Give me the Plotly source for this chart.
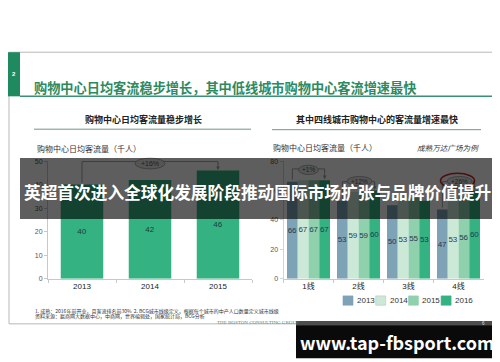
import plotly.graph_objects as go

W, H = 500, 362

# ---------------- data ----------------
left_categories = ["2013", "2014", "2015"]
left_values = [40, 42, 46]
left_ticks = [0, 10, 20, 30, 40, 50]

tier_categories = ["1线", "2线", "3线", "4线"]
series_names = ["2013", "2014", "2015", "2016"]
values_2013 = [66, 53, 50, 47]
values_2014 = [67, 59, 53, 53]
values_2015 = [67, 59, 55, 56]
values_2016 = [67, 60, 53, 60]
right_ticks = [0, 20, 40, 60, 80]

left_growth = "+16%"
tier_growth = ["+1%", "+12%", None, "+26%"]

series_values = [values_2013, values_2014, values_2015, values_2016]
series_colors = ["#7ea3b7", "#cce9d8", "#8fd0ad", "#34b282"]
left_color = "#34b282"

FONT = "Liberation Sans, Noto Sans CJK SC, sans-serif"
CJK = "Noto Sans CJK SC, Liberation Sans, sans-serif"


def fx(px):
    return px / W


def fy(py):
    return 1 - py / H


# pixel geometry of the two plot areas
L_X0, L_X1, P_TOP, P_BOT = 40, 244, 152, 272
R_X0, R_X1 = 275.5, 475.5
L_MAX, R_MAX = 50, 80
BARGAP = 0.14

fig = go.Figure()

fig.add_trace(go.Bar(
    x=left_categories, y=left_values, xaxis="x", yaxis="y",
    marker=dict(color=left_color, line=dict(width=0)), width=0.625,
    text=left_values, textposition="inside", insidetextanchor="middle",
    textangle=0, constraintext="none",
    insidetextfont=dict(size=8, color="#1d3c3a", family=FONT),
    showlegend=False, hoverinfo="skip",
))

for name, vals, col in zip(series_names, series_values, series_colors):
    fig.add_trace(go.Bar(
        x=tier_categories, y=vals, name=name, xaxis="x2", yaxis="y2",
        marker=dict(color=col, line=dict(width=0)),
        text=vals, textposition="inside", insidetextanchor="middle",
        textangle=0, constraintext="none",
        insidetextfont=dict(size=8, color="#1f3a55", family=FONT),
        showlegend=False, hoverinfo="skip",
    ))

axis_common = dict(showgrid=False, zeroline=False, fixedrange=True)
fig.update_layout(
    width=W, height=H, margin=dict(l=0, r=0, t=0, b=0),
    paper_bgcolor="white", plot_bgcolor="rgba(0,0,0,0)",
    barmode="group", bargap=BARGAP, bargroupgap=0, showlegend=False,
    font=dict(family=FONT, size=8, color="#333"),
    xaxis=dict(domain=[fx(L_X0), fx(L_X1)], anchor="y", type="category",
               range=[-0.5, 2.5], showline=True, linecolor="#c8c8c8",
               ticks="outside", tickson="boundaries", ticklen=3, tickcolor="#c8c8c8",
               tickfont=dict(size=8, color="#222"), **axis_common),
    yaxis=dict(domain=[fy(P_BOT), fy(P_TOP)], anchor="x", range=[0, L_MAX],
               tickvals=left_ticks, showline=True, linecolor="#c8c8c8",
               ticks="outside", ticklen=3, tickcolor="#c8c8c8",
               tickfont=dict(size=7, color="#555"), **axis_common),
    xaxis2=dict(domain=[fx(R_X0), fx(R_X1)], anchor="y2", type="category",
                range=[-0.5, 3.5], showline=True, linecolor="#c8c8c8",
                ticks="outside", tickson="boundaries", ticklen=3, tickcolor="#c8c8c8",
                tickfont=dict(size=8, color="#222"), **axis_common),
    yaxis2=dict(domain=[fy(P_BOT), fy(P_TOP)], anchor="x2", range=[0, R_MAX],
                tickvals=right_ticks, showline=True, linecolor="#c6d9e2",
                ticks="outside", ticklen=3, tickcolor="#c6d9e2",
                tickfont=dict(size=7, color="#555"), **axis_common),
)

shapes = []
ann = []


def line(x0, y0, x1, y1, color, width=1, layer="above"):
    shapes.append(dict(type="line", xref="paper", yref="paper",
                       x0=fx(x0), y0=fy(y0), x1=fx(x1), y1=fy(y1),
                       line=dict(color=color, width=width), layer=layer))


def rect(x0, y0, x1, y1, fill, lc=None, lw=0, layer="above"):
    shapes.append(dict(type="rect", xref="paper", yref="paper",
                       x0=fx(x0), y0=fy(y1), x1=fx(x1), y1=fy(y0),
                       fillcolor=fill, line=dict(color=lc or fill, width=lw),
                       layer=layer))


def ellipse(cx, cy, w, h, fill, lc, lw=0.8):
    shapes.append(dict(type="circle", xref="paper", yref="paper",
                       x0=fx(cx - w / 2), x1=fx(cx + w / 2),
                       y0=fy(cy + h / 2), y1=fy(cy - h / 2),
                       fillcolor=fill, line=dict(color=lc, width=lw), layer="above"))


def text(x, y, s, size, color="#333", xa="center", ya="middle", bold=False,
         family=CJK, angle=0, italic=False):
    if bold:
        s = "<b>" + s + "</b>"
    if italic:
        s = "<i>" + s + "</i>"
    ann.append(dict(xref="paper", yref="paper", x=fx(x), y=fy(y), text=s,
                    showarrow=False, xanchor=xa, yanchor=ya, textangle=angle,
                    font=dict(size=size, color=color, family=family)))


def arrow(x, y_tip, length, color):
    ann.append(dict(xref="paper", yref="paper", x=fx(x), y=fy(y_tip), text="",
                    showarrow=True, ax=0, ay=-length, arrowhead=2, arrowsize=0.9,
                    arrowwidth=0.8, arrowcolor=color, standoff=0))


# ---- slide frame ----
rect(1, 41, 499, 318, "white", lc="#b8b8b8", lw=1, layer="below")
rect(0, 41, 12, 86, "#1f8a5f", layer="below")
line(12, 86, 488, 86, "#3a9070", 1.5, layer="below")
text(6, 63, "2", 6, "white", bold=True, family=FONT)
text(24, 77, "购物中心日均客流稳步增长，其中低线城市购物中心客流增速最快", 13.2,
     "#2d8a5f", xa="left", bold=True)

# left panel headers
text(135, 110, "购物中心日均客流量稳步增长", 9, "#222", bold=True)
line(26, 119.5, 243, 119.5, "#6f968f", 1, layer="below")
text(27, 139, "购物中心日均客流量（千人）", 8, "#333", xa="left")

# right panel headers
text(369, 110, "其中四线城市购物中心的客流量增速最快", 9, "#222", bold=True)
line(264, 120, 473, 120, "#6f968f", 1, layer="below")
text(263, 138, "购物中心日均客流量（千人）", 8, "#333", xa="left")
text(473, 138, "成熟万达广场为例", 7.6, "#333", xa="right", italic=True)

# ---- growth brackets ----
L_STEP = (L_X1 - L_X0) / len(left_categories)
R_STEP = (R_X1 - R_X0) / len(tier_categories)
BRK = "#9a9a9a"


def lpx(i):
    return L_X0 + L_STEP * (i + 0.5)


def lpy(v):
    return P_BOT - v * (P_BOT - P_TOP) / L_MAX


def rpx(i):
    return R_X0 + R_STEP * (i + 0.5)


def rpy(v):
    return P_BOT - v * (P_BOT - P_TOP) / R_MAX


# left +16%
top = 152.5
line(lpx(0), lpy(left_values[0]) - 2, lpx(0), top, BRK, 0.9)
line(lpx(0), top, lpx(2), top, BRK, 0.9)
line(lpx(2), top, lpx(2), top + 3, BRK, 0.9)
ellipse(lpx(1), 154.5, 30, 11, "#e6e6e6", "#9a9a9a")
arrow(lpx(2), lpy(left_values[2]) - 0.5, 8, "#3a3a3a")
text(lpx(1), 154.5, left_growth, 7, "#1e1e1e", family=FONT)

# right brackets
off = (1 - BARGAP) * R_STEP / 4 * 1.5
brk_tops = [160, 173, None, 173]
for i, g in enumerate(tier_growth):
    if not g:
        continue
    t = brk_tops[i]
    first = values_2013[i]
    last = values_2016[i]
    xl, xr = rpx(i) - off, rpx(i) + off
    line(xl, rpy(first) - 2, xl, t, BRK, 0.9)
    line(xl, t, xr, t, BRK, 0.9)
    line(xr, t, xr, t + 3, BRK, 0.9)
    if i == 3:
        ellipse(rpx(i) - 1, t - 1, 34, 15, "rgba(0,0,0,0)", "#cc2a2a", 1.6)
    w = 20 if len(g) == 3 else 25
    ellipse(rpx(i) + (0 if i == 0 else 1), t + (1 if i == 0 else -0.5), w, 9.5,
            "#e6e6e6", "#9a9a9a")
    arrow(xr, rpy(last) - 1, rpy(last) - 1 - t, "#3a3a3a")
    text(rpx(i) + (0 if i == 0 else 1), t + (1 if i == 0 else -0.5), g, 6.5,
         "#1e1e1e", family=FONT)

# ---- manual legend ----
lg_x, lg_step = 335, 32.7
for k, (name, col) in enumerate(zip(series_names, series_colors)):
    x0 = lg_x + k * lg_step
    rect(x0, 289.5, x0 + 10, 299, col, lc="#b5c8c0" if k == 1 else col, lw=0.6)
    text(x0 + 12, 294.5, name, 8, "#333", xa="left", family=FONT)

# ---- footnotes ----
text(25, 305, "1. 成熟：2016年前开业，且客流排名前30%  2. BCG城市线级定义，根据每个城市的中产人口数量定义城市线级",
     5, "#333", xa="left")
text(25, 310.5, "资料来源：赢商网大数据中心，中商网，世界编辑处，国家统计局，BCG分析", 5, "#333", xa="left")
text(250, 316.5, "THE BOSTON CONSULTING GROUP", 5, "#4a8c80", family="Liberation Serif, serif")
text(490, 236, "Copyright © 2016 by The Boston Consulting Group, Inc. All rights reserved.",
     4.3, "#c4c4c4", family=FONT, angle=-90)

# ---- overlay banner ----
rect(12, 149, 489, 211, "rgba(0,0,0,0.63)")
text(250, 184, "英超首次进入全球化发展阶段推动国际市场扩张与品牌价值提升", 16.7, "white",
     bold=True)

# ---- watermark box ----
rect(288, 315, 491, 320, "#4d4d4d")
rect(288, 319.5, 491, 353, "#0a0a0a")
text(475, 317.5, "6", 4.5, "#dddddd", family=FONT)
text(389, 337, "www.tap-fbsport.com", 18, "white", bold=True)

fig.update_layout(shapes=shapes, annotations=ann)
fig.write_html("out.html", config={"displayModeBar": False})
